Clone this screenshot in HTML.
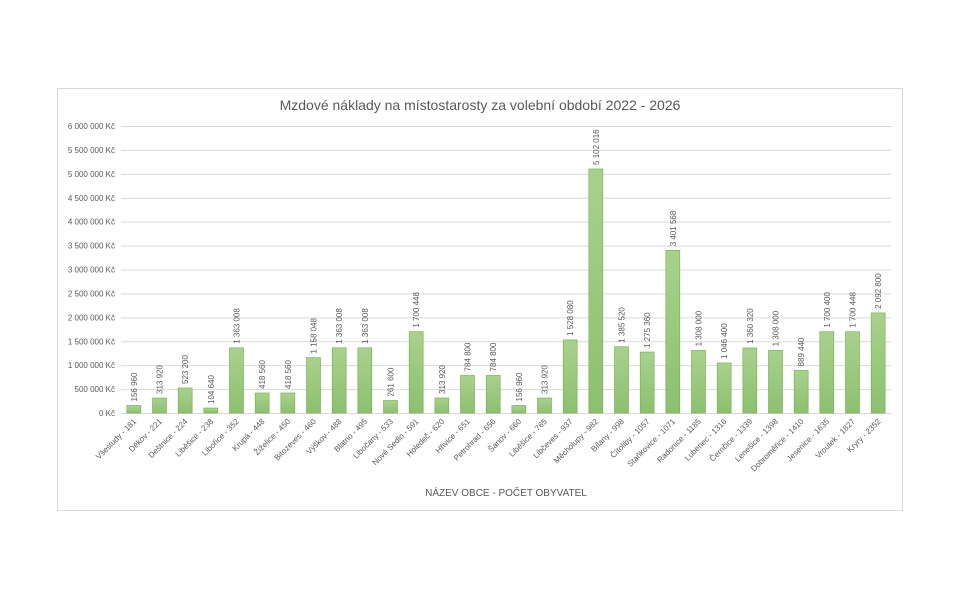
<!DOCTYPE html>
<html><head><meta charset="utf-8"><style>
body{margin:0;background:#fff;width:960px;height:600px;overflow:hidden;font-family:"Liberation Sans",sans-serif}
</style></head><body>
<svg width="960" height="600" id="c" font-family="Liberation Sans, sans-serif">
<rect x="57.5" y="88.5" width="845" height="422" fill="#fff" stroke="#d9d9d9"/>
<text x="480" y="110" text-anchor="middle" font-size="14" fill="#595959">Mzdové náklady na místostarosty za volební období 2022 - 2026</text>
<text x="506" y="496" text-anchor="middle" font-size="10" fill="#595959">NÁZEV OBCE - POČET OBYVATEL</text>
<defs><linearGradient id="g" x1="0" y1="0" x2="0" y2="1"><stop offset="0" stop-color="#a9d18e"/><stop offset="1" stop-color="#8cc06f"/></linearGradient></defs>
<g id="grid"></g><g id="bars"></g><g id="labels"></g>
</svg>
<script>
const categories=["Všestudy - 181","Děkov - 221","Deštnice - 224","Liběšice - 238","Libořice - 352","Krupá - 448","Žiželice - 450","Bitozeves - 460","Výškov - 488","Blatno - 495","Libočany - 533","Nové Sedlo - 591","Holedeč - 620","Hřivice - 651","Petrohrad - 656","Šanov - 660","Liběšice - 765","Libčeves - 937","Měcholupy - 982","Bílany - 998","Čítoliby - 1057","Staňkovice - 1071","Radonice - 1185","Lubenec - 1316","Černčice - 1339","Lenešice - 1398","Dobroměřice - 1410","Jesenice - 1635","Vroutek - 1827","Kryry - 2352"];
const values=[156960,313920,523200,104640,1363008,418560,418560,1158048,1363008,1363008,261600,1700448,313920,784800,784800,156960,313920,1528080,5102016,1385520,1275360,3401568,1308000,1046400,1360320,1308000,889440,1700400,1700448,2092800];
const ticks=[0,500000,1000000,1500000,2000000,2500000,3000000,3500000,4000000,4500000,5000000,5500000,6000000];
const ns="http://www.w3.org/2000/svg";
const L=121,R=891,Y0=413,Y6=126,MAX=6000000;
const y=v=>Y0-(v/MAX)*(Y0-Y6);
const step=(R-L)/categories.length;
const x=i=>L+step*(i+0.5);
const fmt=v=>v===0?"0":String(v).replace(/\B(?=(\d{3})+(?!\d))/g," ");
function mk(t,a,p){const e=document.createElementNS(ns,t);for(const k in a)e.setAttribute(k,a[k]);p.appendChild(e);return e;}
const grid=document.getElementById("grid"),bars=document.getElementById("bars"),labels=document.getElementById("labels");
ticks.forEach(t=>{
 const l=mk("line",{x1:L,x2:R,y1:y(t)+.5,y2:y(t)+.5,stroke:"#d9d9d9","stroke-width":1},grid);
 
 
 const tx=mk("text",{x:L-6,y:y(t)+3,"text-anchor":"end","font-size":8,fill:"#595959"},grid);
 tx.textContent=fmt(t)+" Kč";
 
 
});
values.forEach((v,i)=>{
 const cx=x(i),w=14;
 const b=mk("rect",{x:cx-w/2,y:y(v),width:w,height:Y0-y(v),fill:"url(#g)",stroke:"#70ad47","stroke-width":0.6},bars);
 
 
 const t=mk("text",{x:0,y:0,"font-size":8,fill:"#595959",transform:`translate(${cx+3},${y(v)-4}) rotate(-90)`},labels);
 t.textContent=fmt(v);
 
 
 const c=mk("text",{x:0,y:0,"font-size":8,fill:"#595959","text-anchor":"end",transform:`translate(${cx+3},${Y0+9}) rotate(-45)`},labels);
 c.textContent=categories[i];
 
 
});
</script>
</body></html>
